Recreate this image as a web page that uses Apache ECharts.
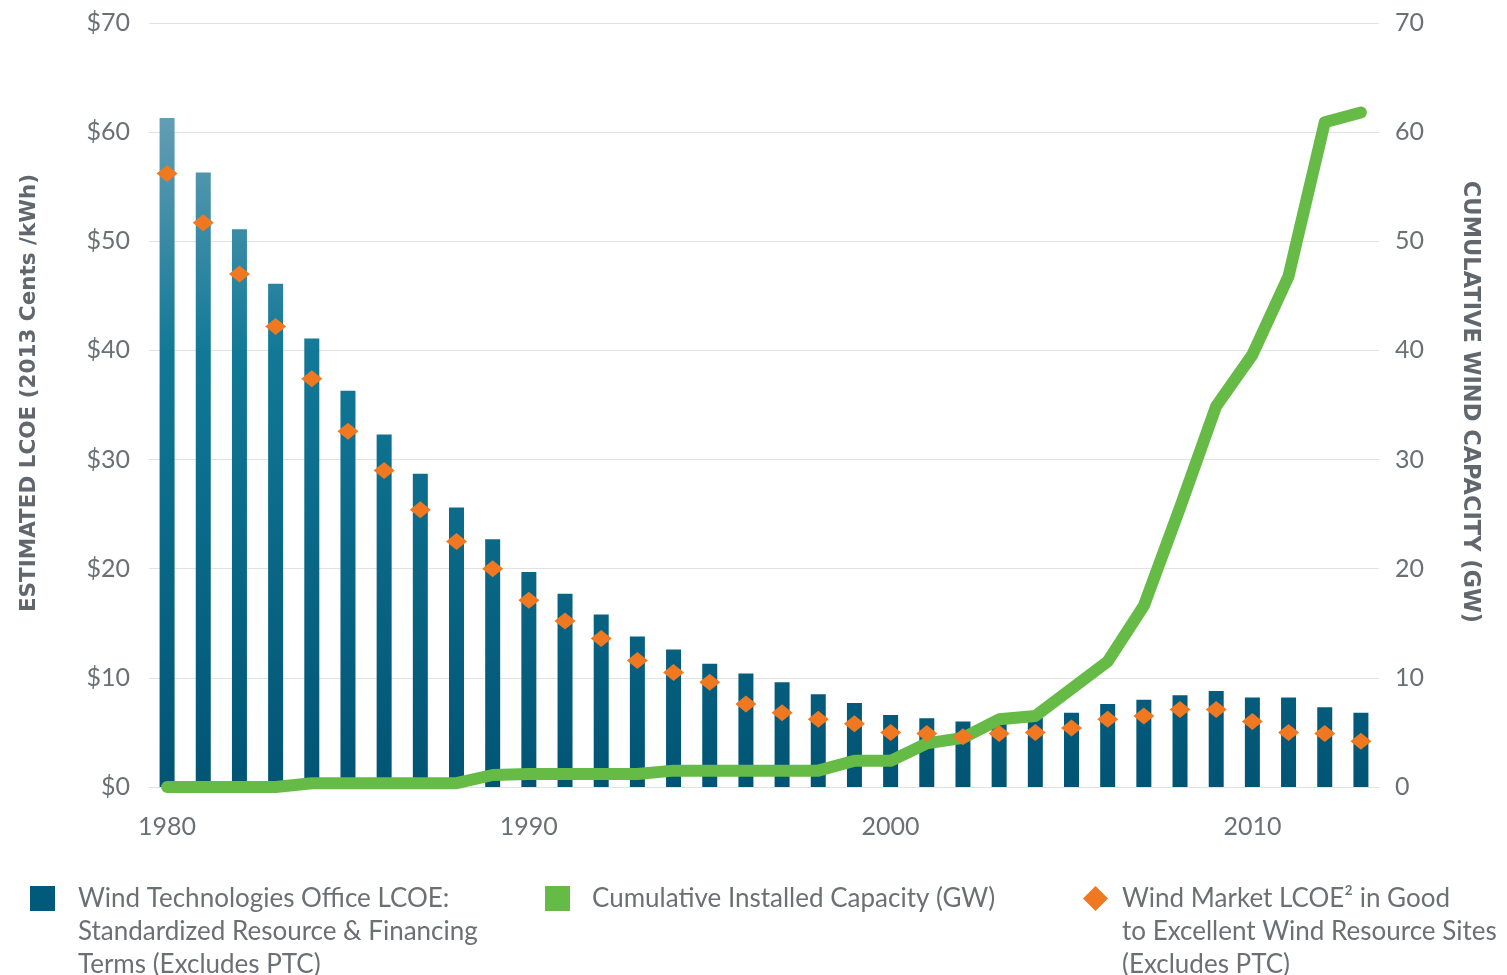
<!DOCTYPE html>
<html>
<head>
<meta charset="utf-8">
<script src="https://cdn.jsdelivr.net/npm/echarts@6/dist/echarts.min.js"></script>
<style>
  html, body { margin: 0; padding: 0; background: #ffffff; }
  #chart { width: 1507px; height: 975px; }
</style>
</head>
<body>
<div id="chart"></div>
<script>
const years = ['1980','1981','1982','1983','1984','1985','1986','1987','1988','1989',
  '1990','1991','1992','1993','1994','1995','1996','1997','1998','1999',
  '2000','2001','2002','2003','2004','2005','2006','2007','2008','2009',
  '2010','2011','2012','2013'];
const wtoLcoe = [61.3, 56.3, 51.1, 46.1, 41.1, 36.3, 32.3, 28.7, 25.6, 22.7,
  19.7, 17.7, 15.8, 13.8, 12.6, 11.3, 10.4, 9.6, 8.5, 7.7,
  6.6, 6.3, 6.0, 6.2, 6.4, 6.8, 7.6, 8.0, 8.4, 8.8,
  8.2, 8.2, 7.3, 6.8];
const capacityGW = [0, 0, 0, 0, 0.35, 0.35, 0.35, 0.35, 0.35, 1.1,
  1.2, 1.2, 1.2, 1.2, 1.5, 1.5, 1.5, 1.5, 1.5, 2.4,
  2.4, 4.0, 4.5, 6.2, 6.5, 9.0, 11.5, 16.6, 25.6, 34.9,
  39.6, 46.8, 60.9, 61.8];
const marketLcoe = [56.2, 51.7, 47.0, 42.2, 37.4, 32.6, 29.0, 25.4, 22.5, 20.0,
  17.1, 15.2, 13.6, 11.6, 10.5, 9.6, 7.6, 6.8, 6.2, 5.8,
  5.0, 4.9, 4.6, 4.9, 5.0, 5.4, 6.2, 6.5, 7.1, 7.1,
  6.0, 5.0, 4.9, 4.2];
const leftTicks = {min: 0, max: 70, step: 10};
const seriesNames = [
  'Wind Technologies Office LCOE:\nStandardized Resource & Financing\nTerms (Excludes PTC)',
  'Cumulative Installed Capacity (GW)',
  'Wind Market LCOE\u00B2 in Good\nto Excellent Wind Resource Sites\n(Excludes PTC)'
];

const FONT = 'Lato';
const GRAY = '#6b7075';
const TITLE_FONT = 'DejaVu Sans';

const chart = echarts.init(document.getElementById('chart'), null, {renderer: 'canvas'});

const barGrad = new echarts.graphic.LinearGradient(0, 118, 0, 787, [
  {offset: 0, color: '#639db3'},
  {offset: 0.35, color: '#117997'},
  {offset: 1, color: '#015474'}
], true);

function legendBox(name, left, icon, color, multi, gap) {
  return {
    data: [{name: name, icon: icon, itemStyle: {color: color}}],
    left: left,
    top: multi ? 816 : 882,
    padding: 0,
    orient: 'vertical',
    itemWidth: 25,
    itemHeight: 25,
    selectedMode: false,
    // two leading blank lines put the first text line level with the icon
    formatter: multi ? function (n) { return '\n\n' + n; } : '{name}',
    textStyle: {
      fontFamily: FONT,
      fontSize: 26,
      color: GRAY,
      lineHeight: 33,
      padding: [0, 0, 0, gap]
    }
  };
}

chart.setOption({
  animation: false,
  backgroundColor: '#ffffff',
  grid: {left: 149, right: 128, top: 23, bottom: 188},
  legend: [
    legendBox(seriesNames[0], 30, 'rect', '#015a7b', true, 18),
    legendBox(seriesNames[1], 545, 'rect', '#66bb46', false, 17),
    legendBox(seriesNames[2], 1083, 'diamond', '#f07820', true, 9)
  ],
  xAxis: {
    type: 'category',
    data: years,
    axisLine: {show: false},
    axisTick: {show: false},
    axisLabel: {
      interval: 9,
      margin: 27,
      fontFamily: FONT,
      fontSize: 25,
      color: GRAY
    }
  },
  yAxis: [
    {
      type: 'value',
      min: leftTicks.min, max: leftTicks.max, interval: leftTicks.step,
      name: 'ESTIMATED LCOE (2013 Cents /kWh)',
      nameLocation: 'middle',
      nameGap: 109,
      nameTextStyle: {fontFamily: TITLE_FONT, fontSize: 21.5, fontWeight: 'bold', color: '#61676d', padding: [0, 0, 0, 24]},
      axisLine: {show: false},
      axisTick: {show: false},
      axisLabel: {
        formatter: '${value}',
        margin: 19,
        fontFamily: FONT, fontSize: 25, color: GRAY
      },
      splitLine: {lineStyle: {color: '#e2e2e2', width: 1.2}}
    },
    {
      type: 'value',
      position: 'right',
      min: leftTicks.min, max: leftTicks.max, interval: leftTicks.step,
      name: 'CUMULATIVE WIND CAPACITY (GW)',
      nameLocation: 'middle',
      nameRotate: -90,
      nameGap: 79,
      nameTextStyle: {fontFamily: TITLE_FONT, fontSize: 22.5, fontWeight: 'bold', color: '#61676d', padding: [0, 6, 0, 0]},
      axisLine: {show: false},
      axisTick: {show: false},
      axisLabel: {
        margin: 16,
        fontFamily: FONT, fontSize: 25, color: GRAY
      },
      splitLine: {show: false}
    }
  ],
  series: [
    {
      name: seriesNames[0],
      type: 'bar',
      data: wtoLcoe,
      barWidth: 15,
      itemStyle: {color: barGrad},
      z: 2
    },
    {
      name: seriesNames[1],
      type: 'line',
      yAxisIndex: 1,
      data: capacityGW,
      symbol: 'none',
      itemStyle: {color: '#66bb46'},
      lineStyle: {color: '#66bb46', width: 12, cap: 'round', join: 'round'},
      z: 3
    },
    {
      name: seriesNames[2],
      type: 'scatter',
      data: marketLcoe,
      symbol: 'diamond',
      symbolSize: [21, 17],
      itemStyle: {color: '#f07820', opacity: 1},
      z: 4
    }
  ]
});
</script>
</body>
</html>
